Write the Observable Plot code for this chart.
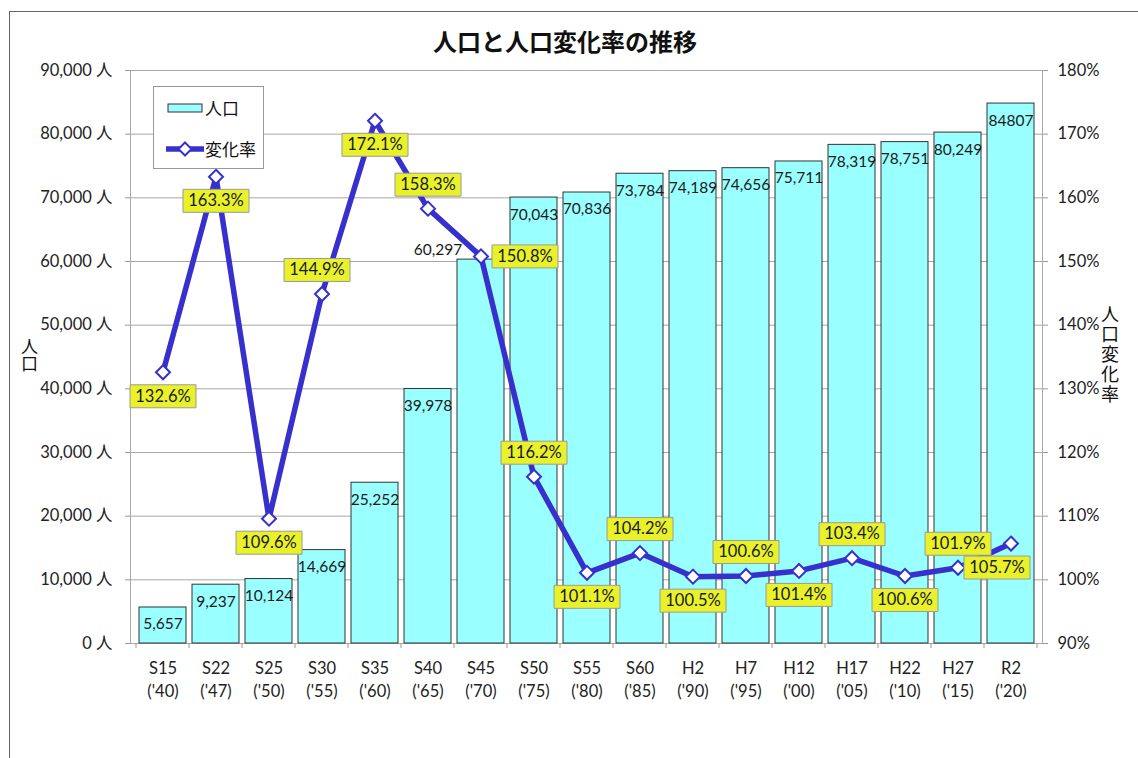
<!DOCTYPE html>
<html><head><meta charset="utf-8">
<script src="https://cdn.jsdelivr.net/npm/d3@7"></script>
<script src="https://cdn.jsdelivr.net/npm/@observablehq/plot@0.6"></script>
<style>
body{margin:0;background:#fff;width:1138px;height:758px;overflow:hidden;position:relative;font-family:Lato,"Noto Sans CJK JP",sans-serif;color:#222;}
#frame{position:absolute;left:9px;top:11px;width:1200px;height:800px;border:1px solid #666;box-sizing:border-box;}
#title{position:absolute;left:0;width:1130px;top:23px;text-align:center;font-weight:bold;font-size:24px;font-family:"Noto Sans CJK JP",sans-serif;color:#111;}
#chart{position:absolute;left:0;top:60px;}
.vtitle{position:absolute;writing-mode:vertical-rl;text-orientation:upright;font-family:"Noto Sans CJK JP",sans-serif;color:#111;}
#legend{position:absolute;left:153px;top:86px;width:111px;height:83px;border:1px solid #999;background:#fff;box-sizing:border-box;font-family:"Noto Sans CJK JP",sans-serif;font-size:17px;color:#111;}
#legend svg{position:absolute;left:0;top:0;}
#legend span{position:absolute;left:51px;line-height:20px;}
</style></head>
<body>
<div id="frame"></div>
<div id="title">人口と人口変化率の推移</div>
<div id="chart"></div>
<div class="vtitle" style="left:17px;top:338px;font-size:17px;">人口</div>
<div class="vtitle" style="left:1097px;top:305px;font-size:18px;letter-spacing:2px;">人口変化率</div>
<div id="legend">
  <svg width="111" height="83">
    <rect x="14" y="17" width="34" height="8" fill="#99FFFF" stroke="#333" stroke-width="1"></rect>
    <line x1="12" y1="62" x2="50" y2="62" stroke="#3830CC" stroke-width="5.5"></line>
    <path d="M31,55.5 L37.5,62 L31,68.5 L24.5,62 Z" fill="#fff" stroke="#3830CC" stroke-width="2"></path>
  </svg>
  <span style="top:11px;">人口</span>
  <span style="top:52px;">変化率</span>
</div>
<script>
// ---- data ----
const categories = ["S15","S22","S25","S30","S35","S40","S45","S50","S55","S60","H2","H7","H12","H17","H22","H27","R2"];
const years = ["'40","'47","'50","'55","'60","'65","'70","'75","'80","'85","'90","'95","'00","'05","'10","'15","'20"];
const population = [5657, 9237, 10124, 14669, 25252, 39978, 60297, 70043, 70836, 73784, 74189, 74656, 75711, 78319, 78751, 80249, 84807];
const populationLabels = ["5,657","9,237","10,124","14,669","25,252","39,978","60,297","70,043","70,836","73,784","74,189","74,656","75,711","78,319","78,751","80,249","84807"];
const popLabelPos = ["in","in","in","in","in","in","left","in","in","in","in","in","in","in","in","in","in"];
const rate = [132.6, 163.3, 109.6, 144.9, 172.1, 158.3, 150.8, 116.2, 101.1, 104.2, 100.5, 100.6, 101.4, 103.4, 100.6, 101.9, 105.7];
const rateLabelPos = ["below","below","below","aboveleft","below","above","right","above","below","above","below","above","below","above","below","above","belowleft"];
const leftTicks = [0,10000,20000,30000,40000,50000,60000,70000,80000,90000];
const leftTickLabels = ["0 人","10,000 人","20,000 人","30,000 人","40,000 人","50,000 人","60,000 人","70,000 人","80,000 人","90,000 人"];
const rightTickLabels = ["90%","100%","110%","120%","130%","140%","150%","160%","170%","180%"];

// rate (%) shares the population axis: 90% -> 0, 180% -> 90,000
const rateToY = r => (r - 90) * 1000;

const data = categories.map((c, i) => ({
  cat: c, year: years[i], pop: population[i], popLabel: populationLabels[i], popPos: popLabelPos[i],
  rate: rate[i], rateY: rateToY(rate[i]), ratePos: rateLabelPos[i]
}));

const BLUE = "#3830CC";
const boxSymbol = {draw(ctx){ ctx.moveTo(-33,-11.5); ctx.lineTo(33,-11.5); ctx.lineTo(33,11.5); ctx.lineTo(-33,11.5); ctx.closePath(); }};
const rateOffsets = {above:{dx:0,dy:-24}, aboveleft:{dx:-5,dy:-24}, below:{dx:0,dy:24}, right:{dx:44,dy:0}, belowleft:{dx:-14,dy:24}};
const popOffsets = {in:{dx:0,dy:17}, left:{dx:-43,dy:-10}};

const rateLabelMarks = Object.entries(rateOffsets).flatMap(([k, o]) => {
  const sub = data.filter(d => d.ratePos === k);
  return [
    Plot.dot(sub, {x:"cat", y:"rateY", symbol: boxSymbol, r: 1, fill:"#E9F12A", stroke:"#9a9a9a", strokeWidth:1, dx:o.dx, dy:o.dy}),
    Plot.text(sub, {x:"cat", y:"rateY", text: d => d.rate.toFixed(1) + "%", dx:o.dx, dy:o.dy, fontSize:16.5, fill:"#1a1a1a"})
  ];
});
const popLabelMarks = Object.entries(popOffsets).map(([k, o]) =>
  Plot.text(data.filter(d => d.popPos === k), {x:"cat", y:"pop", text:"popLabel", dx:o.dx, dy:o.dy, fontSize:15.5, fill:"#1a1a1a"})
);

function xBoundaryTicks(index, scales, values, dims) {
  const g = d3.create("svg:g");
  const x = scales.x;
  if (!x || !x.step) return g.node();
  const step = x.step(), bw = x.bandwidth();
  const y0 = dims.height - dims.marginBottom;
  const bounds = categories.map(c => x(c) + bw / 2 - step / 2).concat([x(categories[categories.length - 1]) + bw / 2 + step / 2]);
  g.selectAll("line").data(bounds).join("line")
    .attr("x1", d => d).attr("x2", d => d).attr("y1", y0).attr("y2", y0 + 5).attr("stroke", "#999");
  return g.node();
}

const chart = Plot.plot({
  width: 1138, height: 700,
  marginTop: 10, marginBottom: 117, marginLeft: 130, marginRight: 96,
  style: {fontFamily: 'Lato, "Noto Sans CJK JP", sans-serif', fontSize: "16px", color: "#222", background: "transparent"},
  x: {type: "band", domain: categories, paddingInner: 0.12, paddingOuter: 0.06, label: null},
  y: {domain: [0, 90000], label: null},
  marks: [
    Plot.gridY(leftTicks, {stroke: "#a8a8a8", strokeOpacity: 1}),
    Plot.frame({stroke: "#a8a8a8"}),
    Plot.barY(data, {x: "cat", y: "pop", fill: "#99FFFF", stroke: "#333", strokeWidth: 1}),
    Plot.axisY(leftTicks, {anchor: "left", tickFormat: d => leftTickLabels[leftTicks.indexOf(d)], tickSize: 5, tickPadding: 13, stroke: "#999", fill: "#222", fontSize: 16.5, label: null}),
    Plot.axisY(leftTicks, {anchor: "right", tickFormat: d => rightTickLabels[leftTicks.indexOf(d)], tickSize: 5, tickPadding: 10, stroke: "#999", fill: "#222", fontSize: 16.5, label: null}),
    Plot.axisX({tickSize: 0, tickPadding: 15, fontSize: 16.5, fill: "#222", lineHeight: 1.35, tickFormat: d => d + "\n(" + years[categories.indexOf(d)] + ")", label: null}),
    xBoundaryTicks,
    ...popLabelMarks,
    Plot.line(data, {x: "cat", y: "rateY", stroke: BLUE, strokeWidth: 5.5, strokeLinejoin: "round"}),
    Plot.dot(data, {x: "cat", y: "rateY", symbol: "diamond2", r: 6.3, fill: "#fff", stroke: BLUE, strokeWidth: 2}),
    ...rateLabelMarks
  ]
});
document.getElementById("chart").appendChild(chart);
</script>
</body></html>
